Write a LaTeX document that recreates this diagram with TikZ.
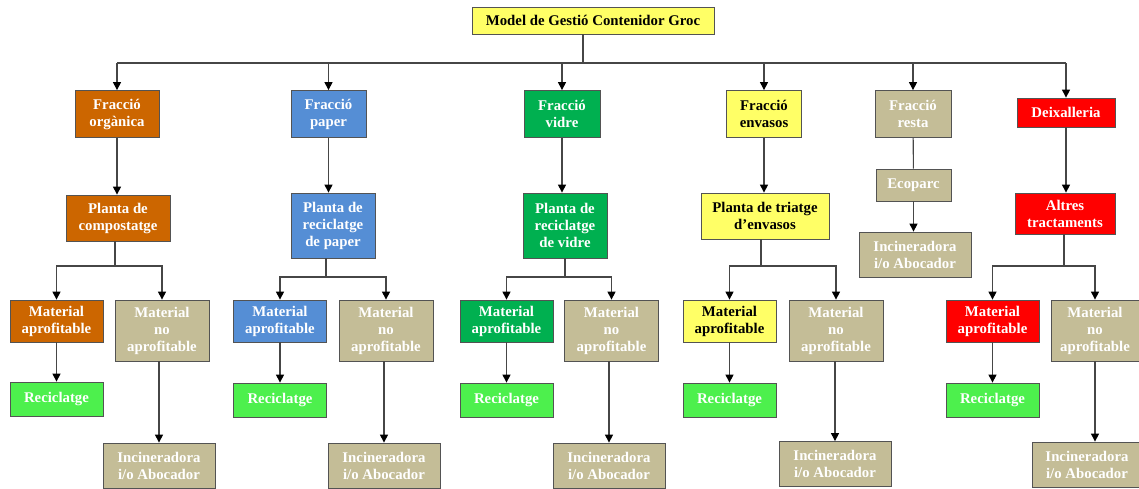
\documentclass[tikz,border=0pt]{standalone}
\usepackage{fontspec}
\setmainfont{Liberation Serif}
\usepackage{tikz}
\usetikzlibrary{arrows.meta,calc}

\definecolor{orgcol}{RGB}{204,102,0}
\definecolor{papcol}{RGB}{85,142,213}
\definecolor{vidcol}{RGB}{0,176,80}
\definecolor{envcol}{RGB}{255,255,102}
\definecolor{rescol}{RGB}{196,189,151}
\definecolor{deixcol}{RGB}{255,0,0}
\definecolor{reccol}{RGB}{77,240,77}

\begin{document}
\begin{tikzpicture}[
        x=1pt, y=-1pt,
        box/.style={draw=gray!65!black, line width=.8pt, inner sep=0pt,
            align=center, text=white,
            font=\bfseries\fontsize{14.8}{17}\selectfont},
        org/.style={box, fill=orgcol},
        pap/.style={box, fill=papcol},
        vid/.style={box, fill=vidcol},
        env/.style={box, fill=envcol, text=black},
        res/.style={box, fill=rescol},
        deix/.style={box, fill=deixcol},
        rec/.style={box, fill=reccol, minimum width=93, minimum height=34},
        ma/.style={minimum width=93, minimum height=42},
        mn/.style={res, minimum width=94, minimum height=61},
        inc/.style={res, minimum width=112, minimum height=45},
        conn/.style={draw=gray!55!black, line width=1.1pt},
        arr/.style={conn, -{Triangle[length=8pt,width=8pt,color=black]}},
    ]
    \useasboundingbox (0,0) rectangle (1139,488);

    % top
    \node[env, minimum width=242, minimum height=27] (model) at (593,20.5)
        {Model de Gestió Contenidor Groc};
    \coordinate (bus) at (583,63);

    % fractions
    \node[org, minimum width=84, minimum height=47] (forg) at (117,114) {Fracció\\orgànica};
    \node[pap, minimum width=75, minimum height=47] (fpap) at (328.5,114) {Fracció\\paper};
    \node[vid, minimum width=76, minimum height=47] (fvid) at (562,114) {Fracció\\vidre};
    \node[env, minimum width=75, minimum height=47] (fenv) at (764,114) {Fracció\\envasos};
    \node[res, minimum width=76, minimum height=47] (fres) at (913,114) {Fracció\\resta};
    \node[deix, minimum width=98, minimum height=29] (fdeix) at (1066,112.5) {Deixalleria};

    \draw[conn] (model.south -| bus) -- (bus);
    \draw[conn] (forg.north |- bus) -- (fdeix.north |- bus);
    \draw[arr] (forg.north |- bus) -- (forg.north);
    \draw[arr] (fpap.north |- bus) -- (fpap.north);
    \draw[arr] (fvid.north |- bus) -- (fvid.north);
    \draw[arr] (fenv.north |- bus) -- (fenv.north);
    \draw[arr] (fres.north |- bus) -- (fres.north);
    \draw[arr] (fdeix.north |- bus) -- (fdeix.north);

    % plants
    \node[org, minimum width=104, minimum height=46] (pcom) at (118,218) {Planta de\\compostatge};
    \node[pap, minimum width=84, minimum height=65] (ppap) at (333,225.5) {Planta de\\reciclatge\\de paper};
    \node[vid, minimum width=84, minimum height=65] (pvid) at (565,225.5) {Planta de\\reciclatge\\de vidre};
    \node[env, minimum width=128, minimum height=46] (ptri) at (765,216) {Planta de triatge\\d’envasos};
    \node[res, minimum width=75, minimum height=32] (ecop) at (913.5,185) {Ecoparc};
    \node[inc] (ires) at (915,254.5) {Incineradora\\i/o Abocador};
    \node[deix, minimum width=100, minimum height=41] (altr) at (1065,213.5) {Altres\\tractaments};

    \draw[arr] (forg) -- (forg |- pcom.north);
    \draw[arr] (fpap) -- (fpap |- ppap.north);
    \draw[arr] (fvid) -- (fvid |- pvid.north);
    \draw[arr] (fenv) -- (fenv |- ptri.north);
    \draw[conn] (fres) -- (ecop);
    \draw[arr] (ecop) -- (ecop |- ires.north);
    \draw[arr] (fdeix) -- (fdeix |- altr.north);

    % organica
    \node[org, ma] (maorg) at (56.5,321) {Material\\aprofitable};
    \node[mn] (mnorg) at (162,330.5) {Material\\no\\aprofitable};
    \node[rec] (recorg) at (56.5,399) {Reciclatge};
    \node[inc] (incorg) at (159,465.5) {Incineradora\\i/o Abocador};
    \coordinate (sorg) at (115,266);
    \draw[conn] (pcom.south -| sorg) -- (sorg);
    \draw[arr] (sorg) -| (maorg.north);
    \draw[arr] (sorg) -| (mnorg.north);
    \draw[arr] (maorg) -- (recorg);
    \draw[arr] (mnorg.south -| incorg) -- (incorg.north);

    % paper
    \node[pap, ma] (mapap) at (280,321) {Material\\aprofitable};
    \node[mn] (mnpap) at (386,330.5) {Material\\no\\aprofitable};
    \node[rec] (recpap) at (280,400) {Reciclatge};
    \node[inc] (incpap) at (384,465.5) {Incineradora\\i/o Abocador};
    \coordinate (spap) at (326,277);
    \draw[conn] (ppap.south -| spap) -- (spap);
    \draw[arr] (spap) -| (mapap.north);
    \draw[arr] (spap) -| (mnpap.north);
    \draw[arr] (mapap) -- (recpap);
    \draw[arr] (mnpap.south -| incpap) -- (incpap.north);

    % vidre
    \node[vid, ma] (mavid) at (506.5,321) {Material\\aprofitable};
    \node[mn] (mnvid) at (611.5,330.5) {Material\\no\\aprofitable};
    \node[rec] (recvid) at (506.5,400) {Reciclatge};
    \node[inc] (incvid) at (609,465.5) {Incineradora\\i/o Abocador};
    \coordinate (svid) at (565,277);
    \draw[conn] (pvid.south -| svid) -- (svid);
    \draw[arr] (svid) -| (mavid.north);
    \draw[arr] (svid) -| (mnvid.north);
    \draw[arr] (mavid) -- (recvid);
    \draw[arr] (mnvid.south -| incvid) -- (incvid.north);

    % envasos
    \node[env, ma] (maenv) at (729.5,321) {Material\\aprofitable};
    \node[mn] (mnenv) at (836,330.5) {Material\\no\\aprofitable};
    \node[rec] (recenv) at (729.5,400) {Reciclatge};
    \node[inc] (incenv) at (835,464) {Incineradora\\i/o Abocador};
    \coordinate (senv) at (761,266);
    \draw[conn] (ptri.south -| senv) -- (senv);
    \draw[arr] (senv) -| (maenv.north);
    \draw[arr] (senv) -| (mnenv.north);
    \draw[arr] (maenv) -- (recenv);
    \draw[arr] (mnenv.south -| incenv) -- (incenv.north);

    % deixalleria
    \node[deix, ma] (madeix) at (992.5,321) {Material\\aprofitable};
    \node[mn, minimum width=88] (mndeix) at (1095,330.5) {Material\\no\\aprofitable};
    \node[rec] (recdeix) at (992.5,400) {Reciclatge};
    \node[inc, minimum width=110] (incdeix) at (1087,464.5) {Incineradora\\i/o Abocador};
    \coordinate (sdeix) at (1064,266);
    \draw[conn] (altr.south -| sdeix) -- (sdeix);
    \draw[arr] (sdeix) -| (madeix.north);
    \draw[arr] (sdeix) -| (mndeix.north);
    \draw[arr] (madeix) -- (recdeix);
    \draw[arr] (mndeix) -- (mndeix |- incdeix.north);
\end{tikzpicture}
\end{document}
